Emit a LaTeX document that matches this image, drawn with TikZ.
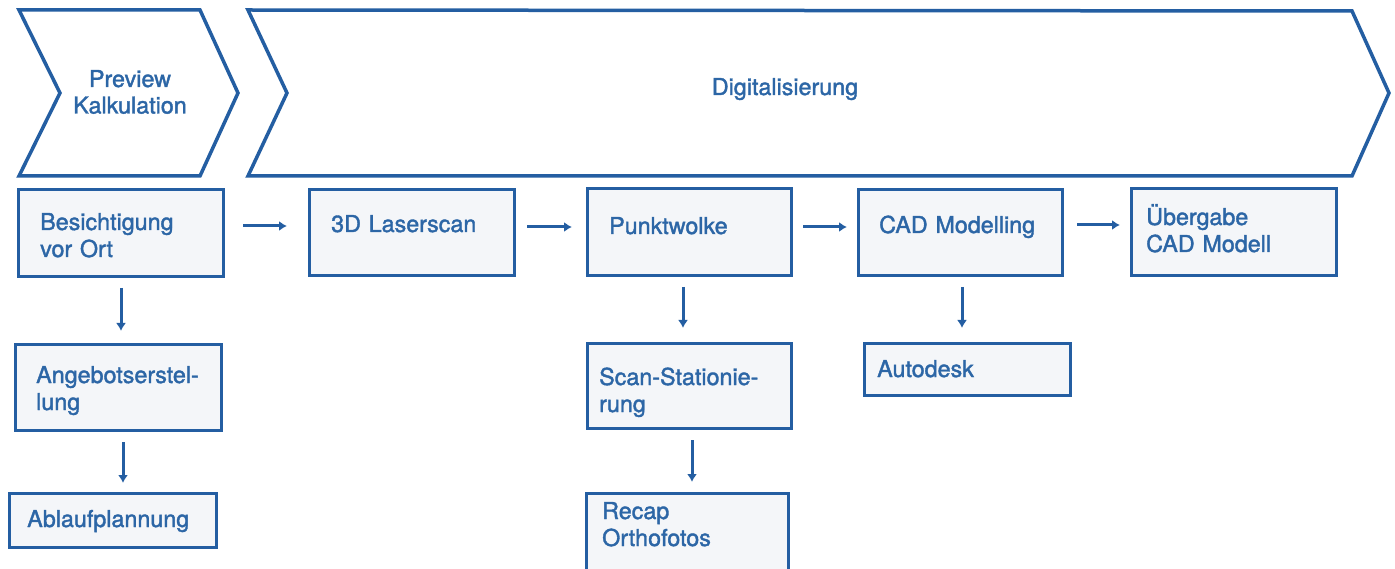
\documentclass[tikz,border=0pt]{standalone}
\usepackage{fontspec}
\setmainfont{TeX Gyre Heros}
\newfontfamily\medfont{TeX Gyre Heros}[FakeBold=1.6]
\usetikzlibrary{arrows.meta,calc}
\definecolor{lineblue}{RGB}{36,94,162}
\definecolor{textblue}{RGB}{44,102,166}
\definecolor{boxfill}{RGB}{244,246,249}
\begin{document}
\begin{tikzpicture}[x=1pt,y=-1pt,
  box/.style={draw=lineblue, line width=3.5pt, fill=boxfill, rectangle, anchor=north west, inner sep=0pt, outer sep=0pt},
  lbl/.style={text=textblue, anchor=base west, inner sep=0pt, align=left, text width=200pt, font=\medfont\fontsize{23.3}{27}\selectfont},
  clbl/.style={text=textblue, anchor=base, inner sep=0pt, align=center, text width=220pt, font=\medfont\fontsize{23.3}{26.5}\selectfont},
  arr/.style={draw=lineblue, line width=3pt, -{Latex[length=8pt,width=10pt]}},
  chev/.style={draw=lineblue, line width=3.5pt, fill=white, line join=miter}]
\clip (0,0) rectangle (1395,569);
\fill[white] (0,0) rectangle (1395,569);

% chevrons
\draw[chev] (19,10) -- (200,10) -- (238,93) -- (200,176) -- (19,176) -- (60,93) -- cycle;
\draw[chev] (248,10) -- (1352,11) -- (1389,93) -- (1352,176) -- (248,176) -- (287,93) -- cycle;
\node[clbl] (tprev) at (130,87) {Preview\\Kalkulation};
\node[clbl] (tdig) at (785,95) {Digitalisierung};

% boxes
\node[box, minimum width=205pt, minimum height=87pt] (bes) at (18.5,189.5) {};
\node[box, minimum width=205pt, minimum height=86pt] (las) at (309.5,189.5) {};
\node[box, minimum width=204pt, minimum height=87pt] (pkt) at (587.5,188.5) {};
\node[box, minimum width=204pt, minimum height=86pt] (cad) at (858.5,189.5) {};
\node[box, minimum width=205pt, minimum height=87pt] (ueb) at (1131.5,188.5) {};
\node[box, minimum width=206pt, minimum height=86pt] (ang) at (15.5,344.5) {};
\node[box, minimum width=207pt, minimum height=54pt] (abl) at (9.5,493.5) {};
\node[box, minimum width=204pt, minimum height=85pt] (scn) at (587.5,343.5) {};
\node[box, minimum width=202pt, minimum height=110pt] (rec) at (586.5,493.5) {};
\node[box, minimum width=206pt, minimum height=52pt] (aut) at (864.5,343.5) {};

% texts
\node[lbl] (tbes) at (40,230) {Besichtigung\\vor Ort};
\node[lbl] (tlas) at (331,232) {3D Laserscan};
\node[lbl] (tpkt) at (609,234) {Punktwolke};
\node[lbl] (tcad) at (879,233) {CAD Modelling};
\node[lbl] (tueb) at (1146,225) {Übergabe\\CAD Modell};
\node[lbl] (tang) at (36,383) {Angebotserstel-\\lung};
\node[lbl] (tabl) at (27,527) {Ablaufplannung};
\node[lbl] (tscn) at (599,385) {Scan-Stationie-\\rung};
\node[lbl] (trec) at (602,519) {Recap\\Orthofotos};
\node[lbl] (taut) at (877,377) {Autodesk};

% horizontal arrows
\draw[arr, shorten <=19.5pt, shorten >=22.5pt] ([yshift=7pt]bes.east) -- ([yshift=7pt]bes.east -| las.west);
\draw[arr, shorten <=12.5pt, shorten >=15.5pt] ([yshift=5.5pt]las.east) -- ([yshift=5.5pt]las.east -| pkt.west);
\draw[arr, shorten <=11.5pt, shorten >=11.5pt] ([yshift=5pt]pkt.east) -- ([yshift=5pt]pkt.east -| cad.west);
\draw[arr, shorten <=14.5pt, shorten >=11.5pt] ([yshift=7.5pt]cad.east) -- ([yshift=7.5pt]cad.east -| ueb.west);

% vertical arrows
\draw[arr, shorten <=11.5pt, shorten >=13.5pt] (bes.south) -- (bes.south |- ang.north);
\draw[arr, shorten <=11.5pt, shorten >=10.5pt] ([xshift=4.5pt]ang.south) -- ([xshift=4.5pt]ang.south |- abl.north);
\draw[arr, shorten <=11.5pt, shorten >=15.5pt] ([xshift=-6.5pt]pkt.south) -- ([xshift=-6.5pt]pkt.south |- scn.north);
\draw[arr, shorten <=11.5pt, shorten >=11.5pt] ([xshift=2.5pt]scn.south) -- ([xshift=2.5pt]scn.south |- rec.north);
\draw[arr, shorten <=11.5pt, shorten >=15.5pt] ([xshift=1.5pt]cad.south) -- ([xshift=1.5pt]cad.south |- aut.north);
\end{tikzpicture}
\end{document}
